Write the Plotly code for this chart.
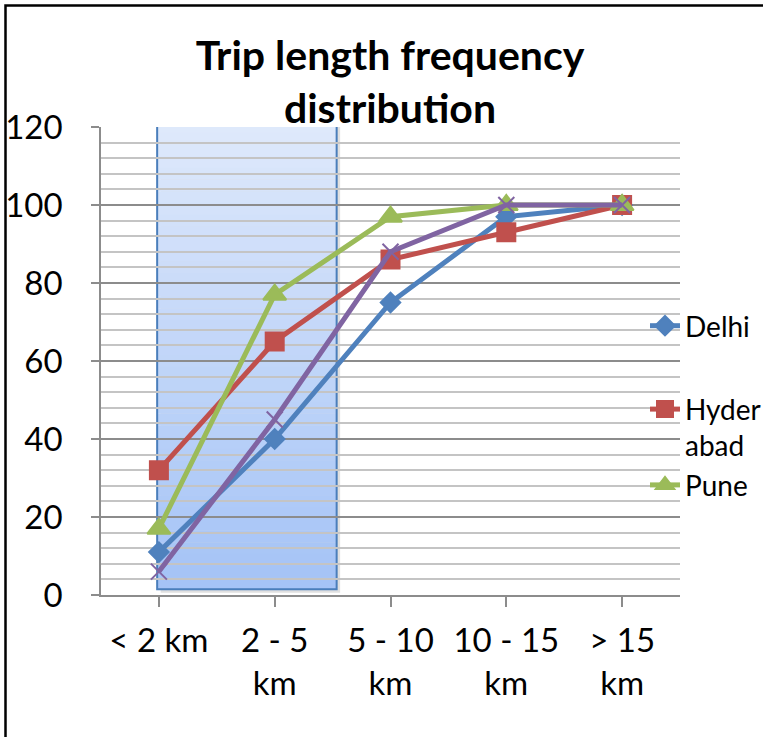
import plotly.graph_objects as go

# Trip length bands and cumulative share of trips (%)
categories = ["< 2 km", "2 - 5 km", "5 - 10 km", "10 - 15 km", "> 15 km"]
tick_labels = ["< 2 km", "2 - 5<br>km", "5 - 10<br>km", "10 - 15<br>km", "> 15<br>km"]
delhi = [11, 40, 75, 97, 100]
hyderabad = [32, 65, 86, 93, 100]
pune = [17, 77, 97, 100, 100]
fourth_city = [6, 45, 88, 100, 100]

FONT = "Lato, Carlito, 'Open Sans', sans-serif"

fig = go.Figure()

series = [
    ("Delhi", delhi, "#4F81BD", "diamond", 15, True, "a"),
    ("Hyder<br>abad", hyderabad, "#C0504D", "square", 18, True, "b"),
    ("Pune", pune, "#9BBB59", "triangle-up", 20, True, "b"),
    ("Mumbai", fourth_city, "#8064A2", "x-thin", 16, False, "c"),
]
for name, vals, color, sym, size, show, grp in series:
    fig.add_trace(go.Scatter(
        x=list(range(len(categories))), y=vals, name=name, mode="lines+markers",
        line=dict(color=color, width=5),
        marker=dict(symbol=sym, size=size, color=color,
                    line=dict(color=color, width=2)),
        showlegend=show, legendgroup=grp,
    ))

# Highlighted short-trip band with a vertical gradient fill
shapes = []
x0, x1, y0, y1 = -0.015, 1.535, 1.5, 121.5
shapes.append(dict(type="rect", xref="x", yref="y", x0=x0 + 0.03, x1=x1 + 0.03,
                   y0=y0 - 0.9, y1=y1 - 0.9, layer="below",
                   fillcolor="rgba(0,0,0,0.12)", line=dict(width=0)))
top_rgb, bot_rgb = (223, 233, 251), (164, 195, 246)
n = 40
for k in range(n):
    t = (k + 0.5) / n
    r = round(top_rgb[0] + (bot_rgb[0] - top_rgb[0]) * t)
    g = round(top_rgb[1] + (bot_rgb[1] - top_rgb[1]) * t)
    b = round(top_rgb[2] + (bot_rgb[2] - top_rgb[2]) * t)
    ya = y1 - (y1 - y0) * k / n
    yb = y1 - (y1 - y0) * (k + 1) / n
    shapes.append(dict(type="rect", xref="x", yref="y", x0=x0, x1=x1,
                       y0=yb - 0.05, y1=ya + 0.05, layer="below",
                       fillcolor=f"rgb({r},{g},{b})", line=dict(width=0)))
shapes.append(dict(type="rect", xref="x", yref="y", x0=x0, x1=x1, y0=y0, y1=y1,
                   layer="below", fillcolor="rgba(0,0,0,0)",
                   line=dict(color="#4A7EBB", width=2)))

# Outer frame of the chart area
L, R, T, B = 101, 83, 127, 142
W, H = 763, 737
pw, ph = W - L - R, H - T - B
def px_x(v):
    return (v - L) / pw
def px_y(v):
    return (H - B - v) / ph
shapes.append(dict(type="rect", xref="paper", yref="paper",
                   x0=px_x(5.5), x1=px_x(790), y0=px_y(790), y1=px_y(5.5),
                   line=dict(color="black", width=2.5), fillcolor="rgba(0,0,0,0)"))

fig.update_layout(
    width=W, height=H,
    margin=dict(l=L, r=R, t=T, b=B, autoexpand=False),
    paper_bgcolor="white", plot_bgcolor="white",
    font=dict(family=FONT, size=33, color="black"),
    title=dict(text="<b>Trip length frequency<br>distribution</b>",
               x=px_x(390), xref="paper", xanchor="center",
               y=1 - 70 / H, yanchor="middle",
               font=dict(family=FONT, size=41, color="black")),
    shapes=shapes,
    showlegend=True,
    legend=dict(x=px_x(645), y=px_y(301), xanchor="left", yanchor="top",
                bgcolor="rgba(0,0,0,0)", font=dict(size=28, family=FONT, color="black"),
                tracegroupgap=44, itemwidth=30, valign="top"),
    xaxis=dict(
        tickmode="array", tickvals=list(range(len(categories))), ticktext=tick_labels,
        range=[-0.5, 4.5], showgrid=False, zeroline=False,
        showline=True, linecolor="#8C8C8C", linewidth=1.5,
        ticks="outside", ticklen=10, tickcolor="#8C8C8C", tickwidth=1.5,
        tickson="boundaries", ticklabelstandoff=6,
    ),
    yaxis=dict(
        range=[0, 120], dtick=20, tick0=0, zeroline=False,
        showgrid=True, gridcolor="#8C8C8C", gridwidth=1.5,
        showline=True, linecolor="#8C8C8C", linewidth=1.5,
        ticks="outside", ticklen=8, tickcolor="#8C8C8C", tickwidth=1.5,
        ticklabelstandoff=22,
        minor=dict(dtick=4, showgrid=True, gridcolor="#C4C4C4", gridwidth=1.5),
    ),
)

fig.write_html("out.html")
